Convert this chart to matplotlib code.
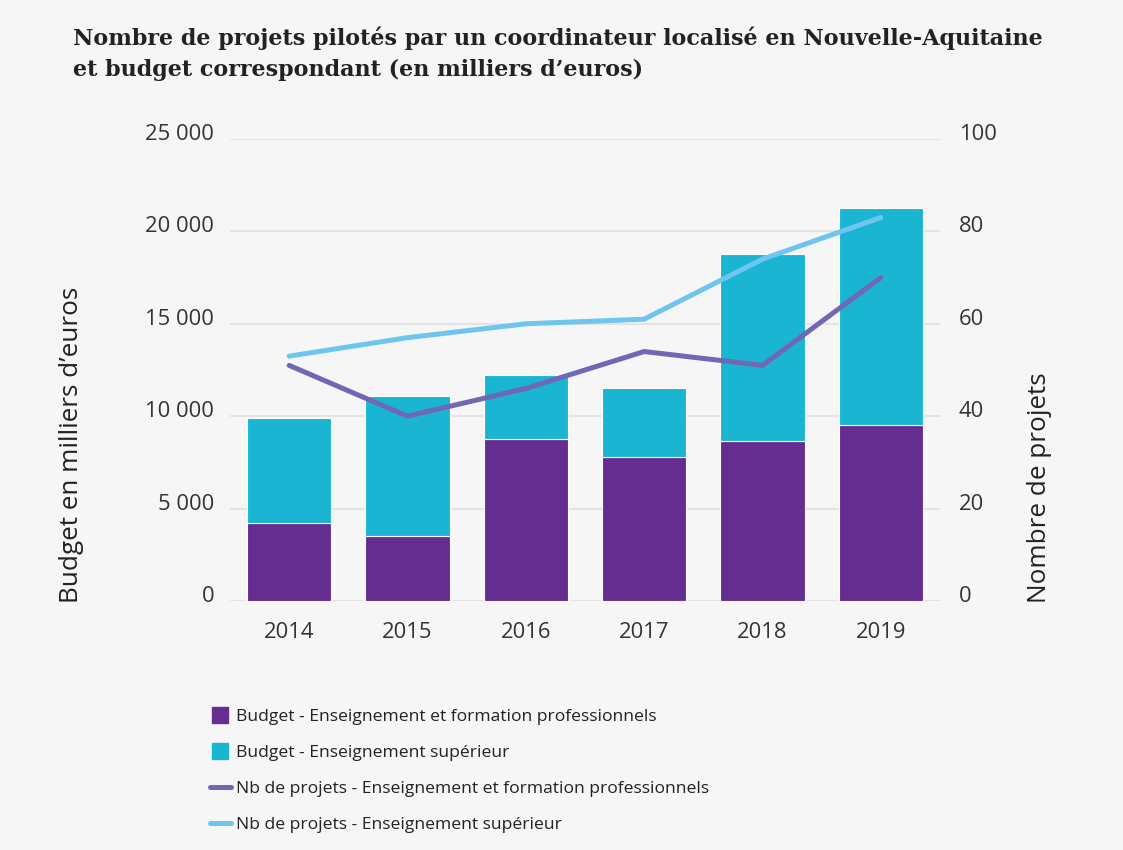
import numpy as np
import matplotlib
matplotlib.use("Agg")
import matplotlib.pyplot as plt
import matplotlib.transforms as mtrans
from matplotlib.lines import Line2D

# données
annees = ["2014", "2015", "2016", "2017", "2018", "2019"]
budget_pro = [4200, 3500, 8750, 7780, 8650, 9500]
budget_sup = [5680, 7570, 3490, 3760, 10150, 11760]
nb_pro = [51, 40, 46, 54, 51, 70]
nb_sup = [53, 57, 60, 61, 74, 83]

c_pro = "#652d90"
c_sup = "#1ab5d3"
c_lpro = "#7068b4"
c_lsup = "#6ec6ef"
fond = "#f6f6f6"
gris = "#333333"

plt.rcParams['font.family'] = ['Open Sans', 'DejaVu Sans']

fig = plt.figure(figsize=(11.23, 8.5), dpi=100, facecolor=fond)
ax = fig.add_axes([230/1123, 1-601/850, 710/1123, 462/850])
ax.set_facecolor(fond)
ax2 = ax.twinx()

x = np.arange(len(annees))
ax.bar(x, budget_pro, width=0.71, color=c_pro, edgecolor="#ffffff", linewidth=0.8, zorder=2)
ax.bar(x, budget_sup, bottom=budget_pro, width=0.71, color=c_sup, edgecolor="#ffffff", linewidth=0.8, zorder=2)
ax.set_xlim(-0.5, len(annees) - 0.5)
ax.set_ylim(0, 25000)
ax.set_yticks(np.arange(0, 25001, 5000))
ax.set_yticklabels(["0", "5 000", "10 000", "15 000", "20 000", "25 000"])
ax.grid(axis="y", color="#e4e4e4", linewidth=1.5, zorder=0)
ax.set_axisbelow(True)

ax2.plot(x, nb_sup, color=c_lsup, linewidth=3.6, solid_capstyle="round", zorder=3)
ax2.plot(x, nb_pro, color=c_lpro, linewidth=3.6, solid_capstyle="round", zorder=3)
ax2.set_ylim(0, 100)
ax2.set_yticks(np.arange(0, 101, 20))

ax.set_xticks(x)
ax.set_xticklabels(annees)
for a in (ax, ax2):
    for s in a.spines.values():
        s.set_visible(False)
    a.tick_params(length=0, labelsize=15.8, labelcolor=gris)
ax.tick_params(axis="y", pad=11.5)
ax2.tick_params(axis="y", pad=13.5)
ax.tick_params(axis="x", pad=15)

# labels un peu au-dessus des lignes de grille
decal = mtrans.ScaledTranslation(0, 7/100, fig.dpi_scale_trans)
for lab in ax.get_yticklabels() + ax2.get_yticklabels():
    lab.set_transform(lab.get_transform() + decal)

fig.text(72/1123, 1-603/850, "Budget en milliers d’euros", rotation=90,
         ha="center", va="bottom", fontsize=18.8, color="#222222")
fig.text(1040/1123, 1-603/850, "Nombre de projets", rotation=90,
         ha="center", va="bottom", fontsize=18.8, color="#222222")

fig.text(73/1123, 1-27/850,
         "Nombre de projets pilotés par un coordinateur localisé en Nouvelle-Aquitaine\n"
         "et budget correspondant (en milliers d’euros)",
         ha="left", va="top", fontsize=16, fontweight="bold",
         family="DejaVu Serif", color="#222222", linespacing=1.5)

handles = [
    Line2D([], [], color=c_pro, marker="s", markersize=11, linestyle="none"),
    Line2D([], [], color=c_sup, marker="s", markersize=11, linestyle="none"),
    Line2D([], [], color=c_lpro, linewidth=3.6, solid_capstyle="round"),
    Line2D([], [], color=c_lsup, linewidth=3.6, solid_capstyle="round"),
]
labels = [
    "Budget - Enseignement et formation professionnels",
    "Budget - Enseignement supérieur",
    "Nb de projets - Enseignement et formation professionnels",
    "Nb de projets - Enseignement supérieur",
]
fig.legend(handles, labels, loc="upper left", bbox_to_anchor=(194/1123, 1-693/850),
           frameon=False, fontsize=12.6, handlelength=1.2, handletextpad=0.3,
           labelspacing=1.13, labelcolor="#222222")

fig.savefig("out.png", dpi=100, facecolor=fond)
